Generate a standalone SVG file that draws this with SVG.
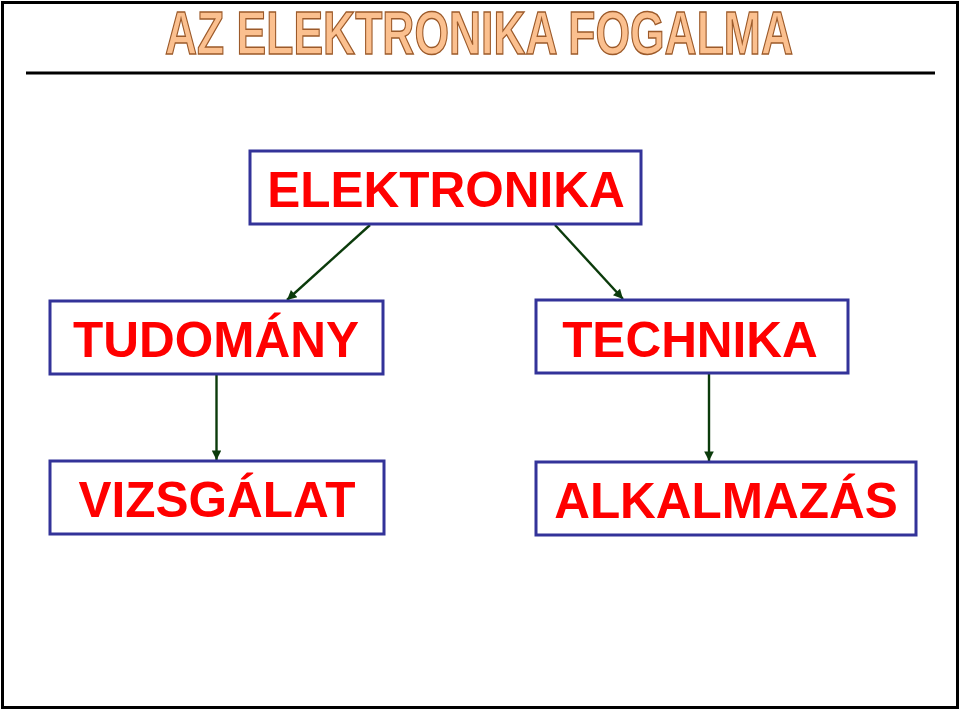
<svg xmlns="http://www.w3.org/2000/svg" width="960" height="711" viewBox="0 0 960 711">
<defs>
<style>
.box{fill:#fff;stroke:#333399;stroke-width:3}
.lbl{font-family:"Liberation Sans",Arial,sans-serif;font-weight:bold;font-size:49.5px;fill:#ff0000;text-anchor:middle}
.con{stroke:#0b3b0b;stroke-width:2.4;fill:none;marker-end:url(#ah)}
.title{font-family:"Liberation Sans",Arial,sans-serif;font-weight:bold;font-size:62px;fill:#fbc08f;stroke:#9c5a2a;stroke-width:1.5}
</style>
<marker id="ah" viewBox="0 0 10 10" refX="10" refY="5" markerWidth="4.5" markerHeight="4" orient="auto" markerUnits="strokeWidth">
<path d="M0,0 L10,5 L0,10 z" fill="#0b3b0b"/>
</marker>
</defs>
<rect x="0" y="0" width="960" height="711" fill="#fff"/>
<rect x="2.5" y="2.5" width="955" height="705" fill="none" stroke="#000" stroke-width="3"/>
<text class="title" x="165" y="54" textLength="628" lengthAdjust="spacingAndGlyphs">AZ ELEKTRONIKA FOGALMA</text>
<line x1="26" y1="73" x2="935" y2="73" stroke="#000" stroke-width="3"/>
<g id="connectors">
<line class="con" x1="370" y1="225" x2="287" y2="300"/>
<line class="con" x1="555" y1="225" x2="623" y2="299"/>
<line class="con" x1="216.5" y1="375" x2="216.5" y2="460"/>
<line class="con" x1="709" y1="374" x2="709" y2="461"/>
</g>
<g id="elektronika">
<rect class="box" x="250" y="151" width="391" height="73"/>
<text class="lbl" x="446" y="207">ELEKTRONIKA</text>
</g>
<g id="tudomany">
<rect class="box" x="50" y="301" width="333" height="73"/>
<text class="lbl" x="216" y="357">TUDOMÁNY</text>
</g>
<g id="technika">
<rect class="box" x="536" y="300" width="312" height="73"/>
<text class="lbl" x="690" y="357">TECHNIKA</text>
</g>
<g id="vizsgalat">
<rect class="box" x="50" y="461" width="334" height="73"/>
<text class="lbl" x="217" y="517">VIZSGÁLAT</text>
</g>
<g id="alkalmazas">
<rect class="box" x="536" y="462" width="380" height="73"/>
<text class="lbl" x="726" y="518">ALKALMAZÁS</text>
</g>
</svg>
